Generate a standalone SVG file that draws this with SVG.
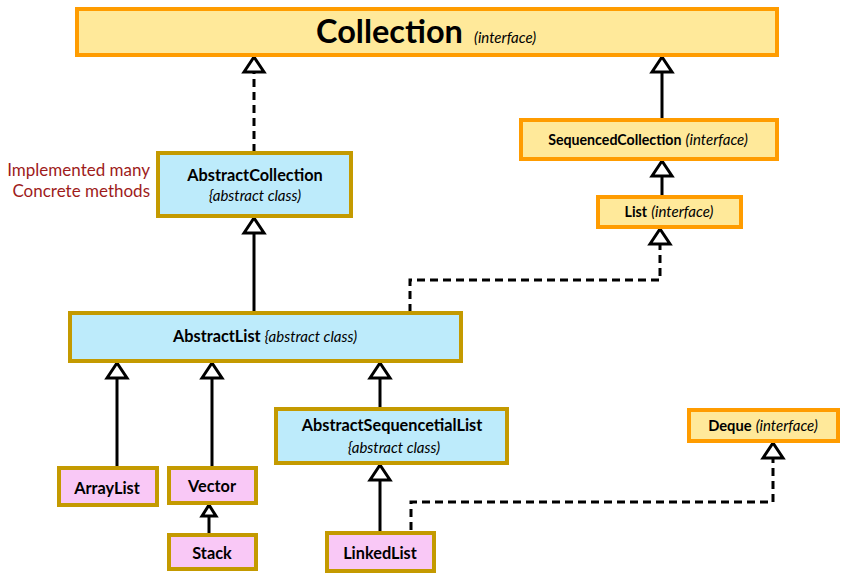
<svg xmlns="http://www.w3.org/2000/svg" width="853" height="585" viewBox="0 0 853 585">
<style>
.iface{fill:#FFE99A;stroke:#FF9C00;stroke-width:4}
.abs{fill:#BDEBFB;stroke:#C49A00;stroke-width:4}
.conc{fill:#F9C8F6;stroke:#C49A00;stroke-width:4}
text{font-family:Lato,"Liberation Sans",sans-serif;fill:#000}
.b{font-weight:bold;font-size:16.3px}
.bs{font-weight:bold;font-size:14.2px}
.i{font-style:italic;font-weight:normal;font-size:15px}
.note{fill:#9E1B1B;font-size:17px;text-anchor:end}
.c{text-anchor:middle}
.ln{fill:none;stroke:#000;stroke-width:3}
.dash{stroke-dasharray:8 5}
</style>
<defs>
<marker id="tri" viewBox="-2 -13 19 26" refX="15" refY="0" markerWidth="19" markerHeight="26" markerUnits="userSpaceOnUse" orient="auto">
<path d="M0,-10 L15,0 L0,10 Z" fill="#fff" stroke="#000" stroke-width="3" stroke-linejoin="miter"/>
</marker>
<marker id="tris" viewBox="-2 -10 15 20" refX="11" refY="0" markerWidth="15" markerHeight="20" markerUnits="userSpaceOnUse" orient="auto">
<path d="M0,-7 L11,0 L0,7 Z" fill="#fff" stroke="#000" stroke-width="3"/>
</marker>
</defs>
<rect width="853" height="585" fill="#fff"/>
<g id="connectors">
<path class="ln dash" d="M254,152 V57" marker-end="url(#tri)"/>
<path class="ln" d="M254,312 V218" marker-end="url(#tri)"/>
<path class="ln" d="M662,119 V57" marker-end="url(#tri)"/>
<path class="ln" d="M662,196 V161" marker-end="url(#tri)"/>
<path class="ln dash" d="M410,312 V280 H660 V229" marker-end="url(#tri)"/>
<path class="ln" d="M117,467 V363" marker-end="url(#tri)"/>
<path class="ln" d="M212,467 V363" marker-end="url(#tri)"/>
<path class="ln" d="M209,534 V505" marker-end="url(#tris)"/>
<path class="ln" d="M380,408 V363" marker-end="url(#tri)"/>
<path class="ln" d="M380,532 V465" marker-end="url(#tri)"/>
<path class="ln dash" d="M411,530 V502 H773 V443" marker-end="url(#tri)"/>
</g>
<g id="collection">
<rect class="iface" x="77" y="9" width="700" height="46"/>
<text x="316" y="43" style="font-weight:bold;font-size:32.5px">Collection</text>
<text x="474" y="43" class="i">(interface)</text>
</g>
<g id="note">
<text class="note" x="150" y="176">Implemented many</text>
<text class="note" x="150" y="197">Concrete methods</text>
</g>
<g id="abstractcollection">
<rect class="abs" x="158" y="153" width="193" height="63"/>
<text class="b c" x="255" y="181">AbstractCollection</text>
<text class="i c" x="255" y="201">{abstract class)</text>
</g>
<g id="sequencedcollection">
<rect class="iface" x="521" y="120" width="256" height="39"/>
<text class="c" x="648" y="145"><tspan class="bs">SequencedCollection</tspan> <tspan class="i">(interface)</tspan></text>
</g>
<g id="list">
<rect class="iface" x="598" y="197" width="143" height="30"/>
<text class="c" x="669" y="217"><tspan class="bs">List</tspan> <tspan class="i">(interface)</tspan></text>
</g>
<g id="abstractlist">
<rect class="abs" x="70" y="313" width="391" height="48"/>
<text class="c" x="265" y="342"><tspan class="b">AbstractList</tspan> <tspan class="i">{abstract class)</tspan></text>
</g>
<g id="abstractsequentiallist">
<rect class="abs" x="276" y="409" width="231" height="54"/>
<text class="b c" x="392" y="431">AbstractSequencetialList</text>
<text class="i c" x="394" y="453">{abstract class)</text>
</g>
<g id="deque">
<rect class="iface" x="689" y="410" width="149" height="31"/>
<text class="c" x="763" y="431"><tspan class="bs" style="font-size:14.7px">Deque</tspan> <tspan class="i">(interface)</tspan></text>
</g>
<g id="arraylist">
<rect class="conc" x="59" y="468" width="98" height="37"/>
<text class="b c" x="107" y="494">ArrayList</text>
</g>
<g id="vector">
<rect class="conc" x="169" y="468" width="87" height="35"/>
<text class="b c" x="212" y="492">Vector</text>
</g>
<g id="stack">
<rect class="conc" x="169" y="535" width="87" height="34"/>
<text class="b c" x="212" y="559">Stack</text>
</g>
<g id="linkedlist">
<rect class="conc" x="327" y="533" width="107" height="38"/>
<text class="b c" x="380" y="559">LinkedList</text>
</g>
</svg>
